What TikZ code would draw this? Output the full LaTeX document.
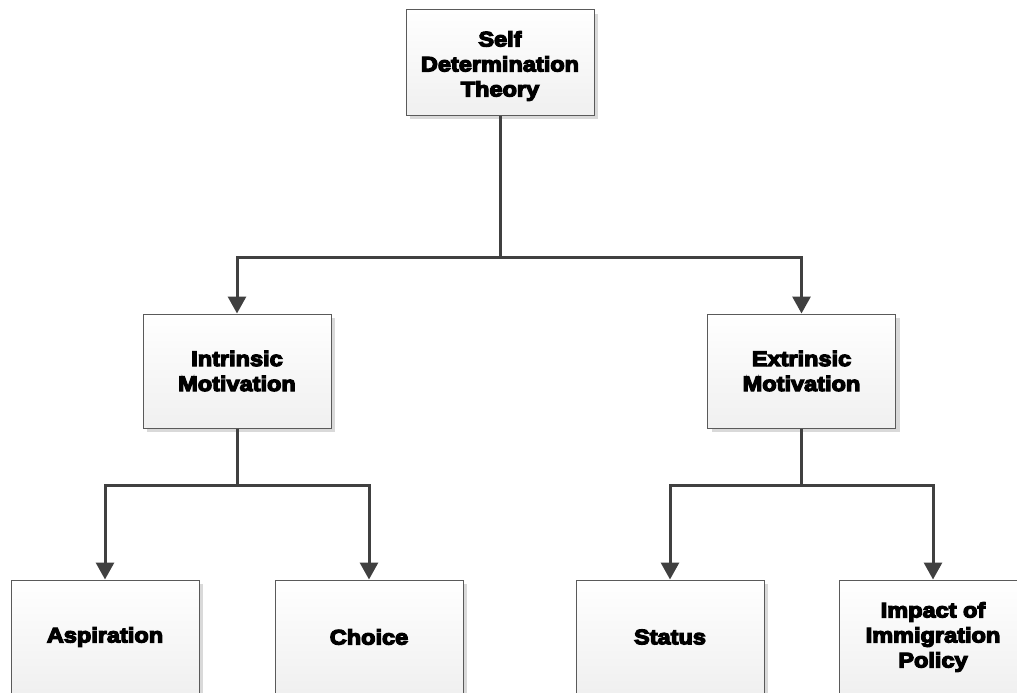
\documentclass[tikz,border=0pt]{standalone}
\usepackage{fontspec}
\usetikzlibrary{arrows.meta,shadows,positioning}
\newfontfamily\heavyfont{Liberation Sans}[UprightFont={* Bold},FakeBold=6,FakeStretch=1.12]
\definecolor{linegray}{HTML}{404040}
\definecolor{edgegray}{HTML}{5A5A5A}
\definecolor{shadowgray}{HTML}{D9D9D9}
\tikzset{
  box/.style={rectangle, draw=edgegray, line width=1pt,
    top color=white, bottom color=gray!12,
    minimum width=188pt, inner sep=2pt, align=center,
    font=\heavyfont\fontsize{21}{25}\selectfont,
    general shadow={fill=shadowgray, shadow xshift=4pt, shadow yshift=-4pt}},
  boxtext/.style={align=center, inner sep=0pt,
    font=\heavyfont\fontsize{21}{25}\selectfont},
  link/.style={draw=linegray, line width=3pt},
  arrowlink/.style={link, -{Triangle[width=18pt,length=17pt]}}
}
\begin{document}
\begin{tikzpicture}[x=1pt,y=-1pt]
  \useasboundingbox (0,0) rectangle (1017,693);
  \clip (0,0) rectangle (1017,693);
  \fill[white] (0,0) rectangle (1017,693);

  % tree of boxes
  \node[box, minimum height=105pt] (sdt) at (500,62.5) {};
  \node[boxtext] (sdtlabel) at (500,66) {Self\\Determination\\Theory};
  \node[box, minimum height=114pt] (im)  at (237,371) {Intrinsic\\Motivation};
  \node[box, minimum height=114pt] (em)  at (801.5,371) {Extrinsic\\Motivation};
  \node[box, minimum height=114pt] (asp) at (105,637) {Aspiration};
  \node[box, minimum height=114pt] (cho) at (369,637) {Choice};
  \node[box, minimum height=114pt] (sta) at (670,637) {Status};
  \node[box, minimum height=114pt] (imp) at (933,637) {Impact of\\Immigration\\Policy};

  % junction points of the connectors
  \coordinate (j0) at (500,257);
  \coordinate (j1) at (237,485);
  \coordinate (j2) at (801.5,485);

  \draw[link] (sdt.south) -- (j0);
  \draw[arrowlink] (j0) -| (im.north);
  \draw[arrowlink] (j0) -| (em.north);

  \draw[link] (im.south) -- (j1);
  \draw[arrowlink] (j1) -| (asp.north);
  \draw[arrowlink] (j1) -| (cho.north);

  \draw[link] (em.south) -- (j2);
  \draw[arrowlink] (j2) -| (sta.north);
  \draw[arrowlink] (j2) -| (imp.north);
\end{tikzpicture}
\end{document}
